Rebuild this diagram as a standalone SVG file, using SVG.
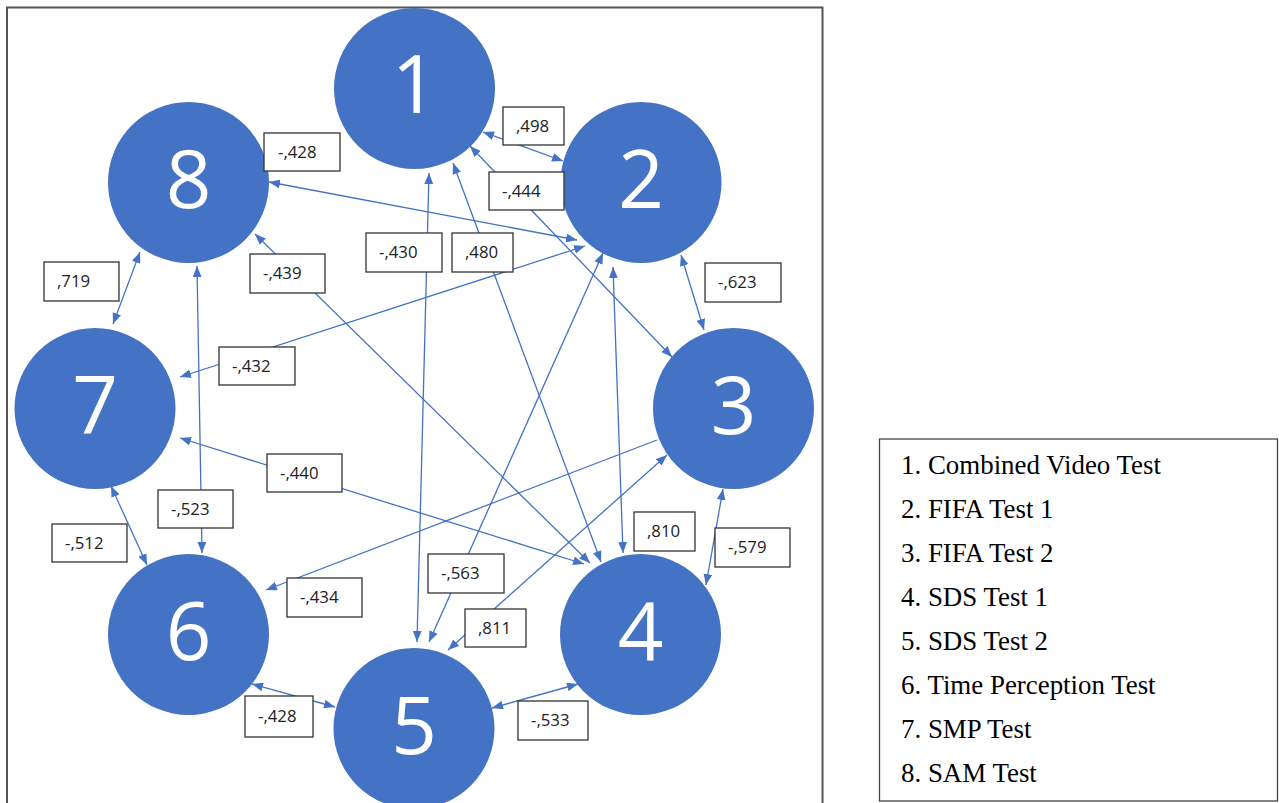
<svg xmlns="http://www.w3.org/2000/svg" width="1279" height="803" viewBox="0 0 1279 803">
<style>
.node circle{fill:#4472C4}
.node text{fill:#fff;font-family:"Open Sans","Noto Sans",sans-serif;font-size:80px;text-anchor:middle}
.conn line{stroke:#4472C4;stroke-width:1.3;fill:none}
.d{marker-start:url(#ah);marker-end:url(#ah)}
.s{marker-start:url(#ah)}
.lbl rect{fill:#fff;stroke:#333;stroke-width:1.3}
.lbl text{fill:#222;font-family:"Open Sans","Noto Sans",sans-serif;font-size:16.8px}
.legend text{fill:#000;font-family:"Liberation Serif","Times New Roman",serif;font-size:26.9px}
</style>
<defs>
<marker id="ah" viewBox="0 0 10 8" refX="10" refY="4" markerWidth="11" markerHeight="9" markerUnits="userSpaceOnUse" orient="auto-start-reverse">
<path d="M0,0 L10,4 L0,8 z" fill="#4472C4"/>
</marker>
</defs>
<rect x="0" y="0" width="1279" height="803" fill="#fff"/>
<rect id="frame" x="7" y="7.5" width="815.5" height="810" fill="none" stroke="#555" stroke-width="2"/>
<g id="connectors" class="conn">
<line class="d" x1="483" y1="132" x2="563" y2="161"/>
<line class="d" x1="470" y1="146" x2="672" y2="357"/>
<line class="d" x1="453" y1="163" x2="601" y2="562"/>
<line class="d" x1="429" y1="173" x2="417" y2="642"/>
<line class="d" x1="269" y1="182" x2="577" y2="240"/>
<line class="d" x1="180" y1="377" x2="585" y2="246"/>
<line class="d" x1="140" y1="252" x2="113" y2="324"/>
<line class="d" x1="197" y1="266" x2="202" y2="553"/>
<line class="d" x1="255" y1="234" x2="590" y2="563"/>
<line class="d" x1="180" y1="438" x2="584" y2="564"/>
<line class="d" x1="111" y1="486" x2="147" y2="565"/>
<line class="s" x1="266" y1="590" x2="657" y2="440"/>
<line class="d" x1="448" y1="650" x2="667" y2="455"/>
<line class="d" x1="429" y1="642" x2="603" y2="253"/>
<line class="d" x1="613" y1="267" x2="623" y2="553"/>
<line class="d" x1="681" y1="255" x2="704" y2="330"/>
<line class="d" x1="723" y1="489" x2="706" y2="585"/>
<line class="d" x1="492" y1="708" x2="578" y2="684"/>
<line class="d" x1="252" y1="684" x2="335" y2="707"/>
</g>
<g id="node1" class="node"><circle cx="414.5" cy="88.5" r="80.5"/><text x="414.5" y="113">1</text></g>
<g id="node2" class="node"><circle cx="641" cy="182.5" r="80.5"/><text x="641" y="208">2</text></g>
<g id="node3" class="node"><circle cx="733.5" cy="408.5" r="80.5"/><text x="733.5" y="434">3</text></g>
<g id="node4" class="node"><circle cx="640.5" cy="634.5" r="80.5"/><text x="640.5" y="660">4</text></g>
<g id="node5" class="node"><circle cx="414" cy="728.5" r="80.5"/><text x="414" y="754">5</text></g>
<g id="node6" class="node"><circle cx="188.5" cy="634.5" r="80.5"/><text x="188.5" y="660">6</text></g>
<g id="node7" class="node"><circle cx="95" cy="408.5" r="80.5"/><text x="95" y="434">7</text></g>
<g id="node8" class="node"><circle cx="188.5" cy="182.5" r="80.5"/><text x="188.5" y="208">8</text></g>
<g id="labels" class="lbl">
<rect x="264" y="133" width="76" height="38"/><text x="278" y="158">-,428</text>
<rect x="503" y="107" width="61" height="38"/><text x="516" y="132">,498</text>
<rect x="489" y="172" width="75" height="38"/><text x="502" y="197">-,444</text>
<rect x="366" y="233" width="76" height="39"/><text x="379" y="258">-,430</text>
<rect x="452" y="233" width="61" height="39"/><text x="465" y="258">,480</text>
<rect x="250" y="254" width="75" height="39"/><text x="263" y="279">-,439</text>
<rect x="44" y="262" width="75" height="39"/><text x="57" y="287">,719</text>
<rect x="705" y="263" width="76" height="39"/><text x="718" y="288">-,623</text>
<rect x="219" y="347" width="76" height="38"/><text x="232" y="372">-,432</text>
<rect x="267" y="454" width="75" height="38"/><text x="280" y="479">-,440</text>
<rect x="158" y="490" width="75" height="38"/><text x="171" y="515">-,523</text>
<rect x="52" y="524" width="75" height="38"/><text x="65" y="549">-,512</text>
<rect x="634" y="512" width="61" height="39"/><text x="647" y="537">,810</text>
<rect x="715" y="528" width="75" height="39"/><text x="728" y="553">-,579</text>
<rect x="428" y="554" width="76" height="39"/><text x="441" y="579">-,563</text>
<rect x="287" y="578" width="75" height="39"/><text x="300" y="603">-,434</text>
<rect x="465" y="609" width="61" height="38"/><text x="478" y="634">,811</text>
<rect x="245" y="696" width="68" height="41"/><text x="258" y="722">-,428</text>
<rect x="518" y="701" width="70" height="39"/><text x="531" y="726">-,533</text>
</g>
<g id="legend" class="legend">
<rect x="879.5" y="439" width="398" height="362" fill="#fff" stroke="#444" stroke-width="1.3"/>
<text x="901" y="473.5">1. Combined Video Test</text>
<text x="901" y="517.5">2. FIFA Test 1</text>
<text x="901" y="561.5">3. FIFA Test 2</text>
<text x="901" y="605.5">4. SDS Test 1</text>
<text x="901" y="649.5">5. SDS Test 2</text>
<text x="901" y="693.5">6. Time Perception Test</text>
<text x="901" y="737.5">7. SMP Test</text>
<text x="901" y="781.5">8. SAM Test</text>
</g>
</svg>
